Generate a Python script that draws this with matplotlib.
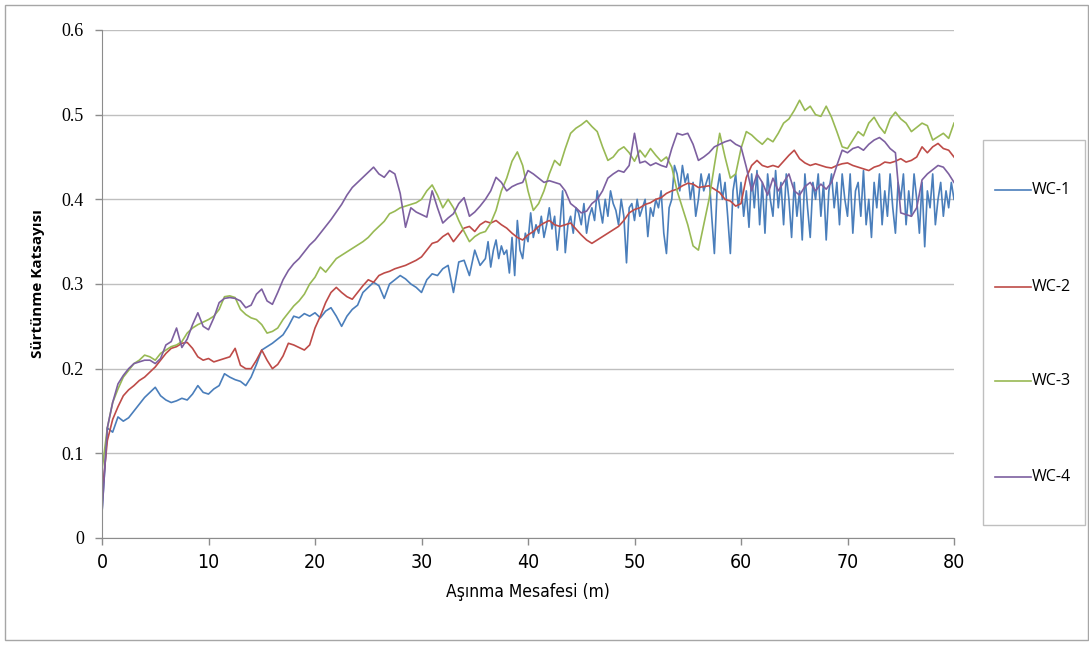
import numpy as np
import matplotlib
matplotlib.use('Agg')
import matplotlib.pyplot as plt
from matplotlib.patches import Rectangle
from matplotlib.lines import Line2D

# distance grids (m)
x_main = np.arange(0, 80.01, 0.5)
x_wc1 = np.concatenate([np.arange(0, 36, 0.5), np.arange(36, 80.01, 0.25)])

# WC-1: 0..35.5 every 0.5 m, then 36..80 every 0.25 m
wc1 = [0.03, 0.13, 0.125, 0.143, 0.138, 0.142, 0.15, 0.158, 0.166, 0.172,
       0.178, 0.168, 0.163, 0.16, 0.162, 0.165, 0.163, 0.17, 0.18, 0.172,
       0.17, 0.176, 0.18, 0.194, 0.19, 0.187, 0.185, 0.18, 0.19, 0.205,
       0.222, 0.226, 0.23, 0.235, 0.24, 0.25, 0.262, 0.26, 0.265, 0.262,
       0.266, 0.26, 0.268, 0.272, 0.262, 0.25, 0.262, 0.27, 0.275, 0.29,
       0.296, 0.302, 0.298, 0.283, 0.3, 0.305, 0.31, 0.306, 0.3, 0.296,
       0.29, 0.305, 0.312, 0.31, 0.318, 0.322, 0.29, 0.326, 0.328, 0.31,
       0.34, 0.322,
       0.33, 0.35, 0.32, 0.34, 0.352, 0.33, 0.345, 0.335,
       0.34, 0.313, 0.355, 0.31, 0.375, 0.34, 0.33, 0.36,
       0.35, 0.384, 0.355, 0.37, 0.36, 0.38, 0.355, 0.37,
       0.39, 0.365, 0.38, 0.34, 0.37, 0.41, 0.337, 0.37,
       0.38, 0.36, 0.39, 0.384, 0.37, 0.395, 0.36, 0.38,
       0.39, 0.375, 0.41, 0.39, 0.372, 0.40, 0.38, 0.41,
       0.395, 0.387, 0.37, 0.40, 0.38, 0.325, 0.39, 0.395,
       0.375, 0.40, 0.38, 0.39, 0.40, 0.356, 0.39, 0.38,
       0.40, 0.39, 0.41, 0.36, 0.336, 0.39, 0.40, 0.44,
       0.43, 0.41, 0.44, 0.42, 0.43, 0.40, 0.42, 0.38,
       0.40, 0.43, 0.41, 0.42, 0.43, 0.38, 0.336, 0.41,
       0.43, 0.40, 0.42, 0.38, 0.336, 0.41, 0.43, 0.39,
       0.42, 0.38, 0.41, 0.367, 0.43, 0.39, 0.434, 0.37,
       0.42, 0.36, 0.43, 0.40, 0.38, 0.434, 0.39, 0.42,
       0.37, 0.43, 0.40, 0.355, 0.42, 0.38, 0.41, 0.352,
       0.43, 0.39, 0.355, 0.42, 0.40, 0.43, 0.38, 0.42,
       0.352, 0.41, 0.43, 0.39, 0.42, 0.37, 0.43, 0.40,
       0.38, 0.43, 0.36, 0.41, 0.42, 0.38, 0.434, 0.37,
       0.40, 0.355, 0.42, 0.39, 0.43, 0.37, 0.41, 0.38,
       0.43, 0.39, 0.36, 0.42, 0.40, 0.43, 0.37, 0.41,
       0.38, 0.43, 0.40, 0.36, 0.42, 0.344, 0.41, 0.39,
       0.43, 0.37, 0.40, 0.42, 0.38, 0.41, 0.39, 0.42,
       0.40]

wc2 = [0.05, 0.115, 0.14, 0.155, 0.168, 0.175, 0.18, 0.186, 0.19, 0.196,
       0.202, 0.21, 0.218, 0.224, 0.226, 0.23, 0.231, 0.224, 0.214, 0.21,
       0.212, 0.208, 0.21, 0.212, 0.214, 0.224, 0.204, 0.2, 0.2, 0.21,
       0.222, 0.21, 0.2, 0.205, 0.215, 0.23, 0.228, 0.225, 0.222, 0.228,
       0.248, 0.262, 0.278, 0.29, 0.296, 0.29, 0.285, 0.282, 0.29, 0.298,
       0.305, 0.302, 0.31, 0.313, 0.315, 0.318, 0.32, 0.322, 0.325, 0.328,
       0.332, 0.34, 0.348, 0.35, 0.356, 0.36, 0.35, 0.358, 0.366, 0.368,
       0.362, 0.37, 0.374, 0.372, 0.375, 0.37, 0.366, 0.36, 0.355, 0.352,
       0.358, 0.362, 0.368, 0.372, 0.375, 0.37, 0.368, 0.37, 0.372, 0.365,
       0.358, 0.352, 0.348, 0.352, 0.356, 0.36, 0.364, 0.368, 0.375, 0.384,
       0.388, 0.39, 0.394, 0.396, 0.4, 0.402, 0.407, 0.41, 0.412, 0.416,
       0.419, 0.418, 0.414, 0.415, 0.416, 0.412, 0.408, 0.40, 0.398, 0.392,
       0.395, 0.426, 0.44, 0.446, 0.44, 0.438, 0.44, 0.438, 0.445, 0.452,
       0.458, 0.448, 0.443, 0.44, 0.442, 0.44, 0.438, 0.437, 0.44, 0.442,
       0.443, 0.44, 0.438, 0.436, 0.434, 0.438, 0.44, 0.444, 0.443, 0.445,
       0.448, 0.444, 0.446, 0.45, 0.462, 0.455, 0.462, 0.466, 0.46, 0.458,
       0.45]

wc3 = [0.08, 0.13, 0.16, 0.176, 0.19, 0.198, 0.206, 0.21, 0.216, 0.214,
       0.21, 0.218, 0.222, 0.226, 0.228, 0.232, 0.242, 0.248, 0.252, 0.255,
       0.258, 0.262, 0.27, 0.285, 0.286, 0.284, 0.27, 0.264, 0.26, 0.258,
       0.252, 0.242, 0.244, 0.248, 0.258, 0.266, 0.274, 0.28, 0.288, 0.3,
       0.308, 0.32, 0.314, 0.322, 0.33, 0.334, 0.338, 0.342, 0.346, 0.35,
       0.355, 0.362, 0.368, 0.374, 0.383, 0.386, 0.39, 0.392, 0.394, 0.396,
       0.4, 0.41, 0.417, 0.405, 0.39, 0.4, 0.39, 0.375, 0.362, 0.35,
       0.356, 0.36, 0.362, 0.372, 0.387, 0.41, 0.425, 0.445, 0.456, 0.44,
       0.41, 0.387, 0.395, 0.41, 0.43, 0.446, 0.44, 0.46, 0.478, 0.484,
       0.488, 0.493, 0.486, 0.48, 0.462, 0.446, 0.45, 0.458, 0.462, 0.455,
       0.445, 0.458, 0.45, 0.46, 0.452, 0.445, 0.45, 0.438, 0.41, 0.39,
       0.37, 0.345, 0.34, 0.37, 0.40, 0.44, 0.478, 0.45, 0.425, 0.43,
       0.46, 0.48, 0.476, 0.47, 0.465, 0.472, 0.468, 0.478, 0.49, 0.495,
       0.505, 0.517, 0.505, 0.51, 0.5, 0.498, 0.51, 0.497, 0.48, 0.462,
       0.46, 0.47, 0.48, 0.475, 0.49, 0.497, 0.486, 0.478, 0.495, 0.503,
       0.495, 0.49, 0.48, 0.485, 0.49, 0.487, 0.47, 0.474, 0.478, 0.472,
       0.49]

wc4 = [0.03, 0.13, 0.16, 0.182, 0.192, 0.2, 0.206, 0.208, 0.21, 0.21,
       0.206, 0.212, 0.228, 0.232, 0.248, 0.225, 0.235, 0.252, 0.266, 0.25,
       0.246, 0.26, 0.278, 0.283, 0.284, 0.283, 0.28, 0.272, 0.275, 0.288,
       0.294, 0.28, 0.276, 0.29, 0.305, 0.316, 0.324, 0.33, 0.338, 0.346,
       0.352, 0.36, 0.368, 0.376, 0.385, 0.394, 0.405, 0.414, 0.42, 0.426,
       0.432, 0.438, 0.43, 0.426, 0.434, 0.43, 0.407, 0.367, 0.39, 0.385,
       0.382, 0.379, 0.41, 0.39, 0.372, 0.378, 0.383, 0.395, 0.402, 0.38,
       0.385, 0.392, 0.4, 0.41, 0.426, 0.42, 0.41, 0.415, 0.418, 0.42,
       0.434, 0.43, 0.425, 0.42, 0.422, 0.42, 0.418, 0.41, 0.395, 0.39,
       0.384, 0.386, 0.395, 0.40, 0.41, 0.425, 0.43, 0.434, 0.432, 0.44,
       0.478, 0.443, 0.445, 0.44, 0.443, 0.44, 0.438, 0.46, 0.478, 0.476,
       0.478, 0.465, 0.446, 0.45, 0.455, 0.462, 0.465, 0.468, 0.47, 0.465,
       0.462, 0.438, 0.41, 0.43, 0.42, 0.405, 0.425, 0.41, 0.42, 0.43,
       0.41, 0.405, 0.415, 0.42, 0.41, 0.418, 0.412, 0.42, 0.44, 0.458,
       0.455, 0.46, 0.462, 0.458, 0.465, 0.47, 0.473, 0.468, 0.46, 0.455,
       0.384, 0.382, 0.38, 0.39, 0.423, 0.43, 0.435, 0.44, 0.438, 0.43,
       0.42]

labels = ['WC-1', 'WC-2', 'WC-3', 'WC-4']
colors = ['#4A7EBB', '#BE4B48', '#98B954', '#7D60A0']
x_ticks = [0, 10, 20, 30, 40, 50, 60, 70, 80]
y_ticks = [0, 0.1, 0.2, 0.3, 0.4, 0.5, 0.6]
y_ticklabels = ['0', '0.1', '0.2', '0.3', '0.4', '0.5', '0.6']

W, H = 1089, 645
fig = plt.figure(figsize=(W / 100, H / 100), dpi=100)
ax = fig.add_axes([102 / W, 1 - 538 / H, 852 / W, 508 / H])

series = [(x_wc1, wc1), (x_main, wc2), (x_main, wc3), (x_main, wc4)]
for (xs, ys), lab, c in zip(series, labels, colors):
    ax.plot(xs, ys, color=c, lw=1.2, label=lab)

ax.set_xlim(0, 80)
ax.set_ylim(0, 0.6)
ax.set_xticks(x_ticks)
ax.set_yticks(y_ticks)
ax.set_yticklabels(y_ticklabels)
ax.grid(axis='y', color='#BFBFBF', lw=1)
ax.set_axisbelow(True)
for s in ['top', 'right']:
    ax.spines[s].set_visible(False)
for s in ['left', 'bottom']:
    ax.spines[s].set_color('#8C8C8C')
ax.tick_params(axis='both', direction='out', length=5, color='#8C8C8C', width=1)
ax.tick_params(axis='x', pad=6)
ax.tick_params(axis='y', pad=8)
for t in ax.get_yticklabels():
    t.set_fontfamily('Liberation Serif')
    t.set_fontsize(13)
for t in ax.get_xticklabels():
    t.set_fontfamily('DejaVu Sans')
    t.set_fontstretch('condensed')
    t.set_fontsize(14)

ax.set_xlabel('Aşınma Mesafesi (m)', family='DejaVu Sans', fontstretch='condensed',
              fontsize=12.5, labelpad=8)
ax.set_ylabel('Sürtünme Katsayısı', family='Open Sans', fontweight='bold',
              fontsize=11, labelpad=12)

# legend box on the right
fig.patches.append(Rectangle((983 / W, 1 - 525 / H), 102 / W, 385 / H,
                             transform=fig.transFigure, fill=False,
                             edgecolor='#BFBFBF', lw=1))
leg_y = [190, 287, 381, 477]
for lab, c, py in zip(labels, colors, leg_y):
    yy = 1 - py / H
    fig.lines.append(Line2D([995 / W, 1031 / W], [yy, yy], transform=fig.transFigure,
                            color=c, lw=1.2))
    fig.text(1032 / W, yy, lab, family='Open Sans', fontsize=11.5, va='center', ha='left')

# outer frame
fig.patches.append(Rectangle((5 / W, 5 / H), 1083 / W, 635 / H,
                             transform=fig.transFigure, fill=False,
                             edgecolor='#A6A6A6', lw=1))

fig.savefig('out.png', dpi=100)
